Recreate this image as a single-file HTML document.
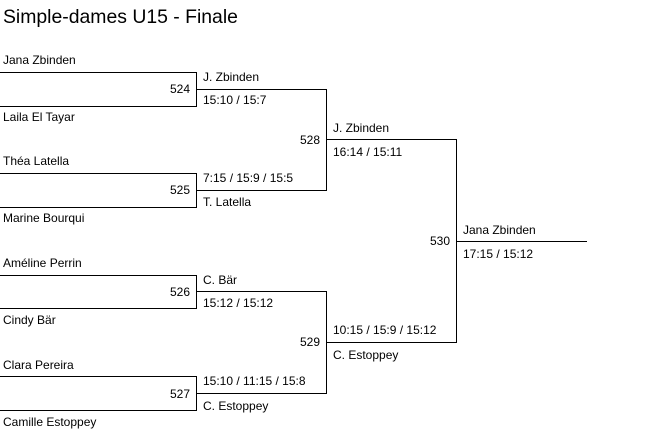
<!DOCTYPE html>
<html><head><meta charset="utf-8"><style>
html,body{margin:0;padding:0;background:#fff;}
svg{display:block;}
text{font-family:"Liberation Sans",Arial,sans-serif;font-size:12px;fill:#000;}
.t{font-size:19.4px;}
.n{text-anchor:end;}
</style></head><body>
<svg width="653" height="437" xmlns="http://www.w3.org/2000/svg">
<text class="t" x="3" y="23">Simple-dames U15 - Finale</text>
<g stroke="#000" stroke-width="1" fill="none" shape-rendering="crispEdges">
<path d="M0 72.5H196.5V106.5H0"/>
<path d="M0 173.5H196.5V207.5H0"/>
<path d="M0 275.5H196.5V308.5H0"/>
<path d="M0 376.5H196.5V410.5H0"/>
<path d="M196 89.5H326.5V190.5H196"/>
<path d="M196 291.5H326.5V393.5H196"/>
<path d="M326 139.5H456.5V342.5H326"/>
<path d="M456 241.5H587"/>
</g>
<text x="3" y="64">Jana Zbinden</text>
<text x="3" y="121">Laila El Tayar</text>
<text x="3" y="165">Théa Latella</text>
<text x="3" y="222">Marine Bourqui</text>
<text x="3" y="267">Améline Perrin</text>
<text x="3" y="324">Cindy Bär</text>
<text x="3" y="369">Clara Pereira</text>
<text x="3" y="426">Camille Estoppey</text>
<text class="n" x="190" y="93">524</text>
<text class="n" x="190" y="194">525</text>
<text class="n" x="190" y="296">526</text>
<text class="n" x="190" y="398">527</text>
<text class="n" x="320" y="144">528</text>
<text class="n" x="320" y="346">529</text>
<text class="n" x="450" y="245">530</text>
<text x="203" y="81">J. Zbinden</text>
<text x="203" y="104">15:10 / 15:7</text>
<text x="203" y="182">7:15 / 15:9 / 15:5</text>
<text x="203" y="206">T. Latella</text>
<text x="203" y="284">C. Bär</text>
<text x="203" y="307">15:12 / 15:12</text>
<text x="203" y="385">15:10 / 11:15 / 15:8</text>
<text x="203" y="410">C. Estoppey</text>
<text x="333" y="132">J. Zbinden</text>
<text x="333" y="156">16:14 / 15:11</text>
<text x="333" y="334">10:15 / 15:9 / 15:12</text>
<text x="333" y="359">C. Estoppey</text>
<text x="463" y="234">Jana Zbinden</text>
<text x="463" y="258">17:15 / 15:12</text>
</svg>
</body></html>
